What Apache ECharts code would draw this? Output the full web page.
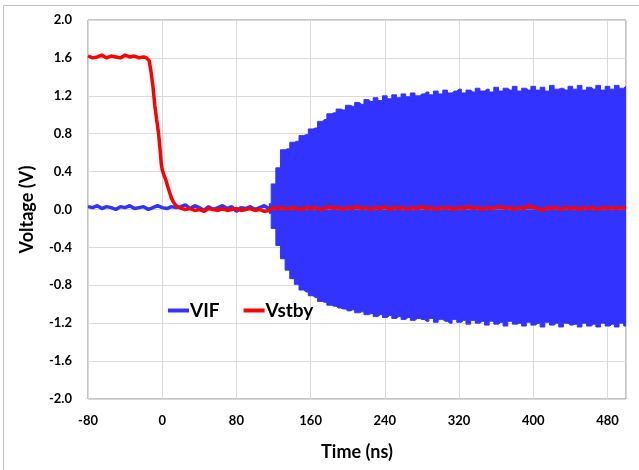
<!DOCTYPE html>
<html style="height: 100%">
<head>
    <meta charset="utf-8">
    <title>VIF / Vstby</title>
    <script src="https://cdn.jsdelivr.net/npm/echarts@6/dist/echarts.min.js"></script>
</head>
<body style="height: 100%; margin: 0; background: #fff">
<div id="main" style="width: 639px; height: 470px"></div>
<script type="text/javascript">

    // VIF before the oscillation starts (ns, V)
    var vifBaseT = [-80, -75, -70, -65, -60, -55, -50, -45, -40, -35, -30, -25, -20, -15, -10, -5, 0, 5, 10, 15,
        20, 25, 30, 35, 40, 45, 50, 55, 60, 65, 70, 75, 80, 85, 90, 95, 100, 105, 110, 115];
    var vifBaseV = [0.03, 0.02, 0.04, 0.01, 0.03, 0.02, 0.00, 0.03, 0.02, 0.04, 0.01, 0.02, 0.03, 0.00, 0.02, 0.04, 0.02, 0.01, 0.03, 0.02,
        0.03, 0.05, 0.01, 0.04, 0.02, -0.01, 0.03, 0.00, 0.02, 0.04, 0.01, 0.03, -0.02, 0.02, 0.01, 0.03, 0.00, 0.02, 0.04, 0.01];

    // VIF oscillation: upper and lower envelope (ns, V)
    var vifEnvT = [115, 120, 125, 130, 135, 140, 145, 150, 155, 160, 165, 170, 175, 180, 185, 190, 195, 200,
        205, 210, 215, 220, 225, 230, 235, 240, 245, 250, 255, 260, 265, 270, 275, 280, 285, 290, 295, 300,
        305, 310, 315, 320, 325, 330, 335, 340, 345, 350, 355, 360, 365, 370, 375, 380, 385, 390, 395, 400,
        405, 410, 415, 420, 425, 430, 435, 440, 445, 450, 455, 460, 465, 470, 475, 480, 485, 490, 495, 500];
    var vifUpper = [0.06, 0.27, 0.44, 0.63, 0.64, 0.71, 0.72, 0.78, 0.79, 0.85, 0.86, 0.93, 0.95, 1.01, 1.02, 1.06, 1.05, 1.10,
        1.09, 1.13, 1.11, 1.16, 1.14, 1.18, 1.15, 1.20, 1.17, 1.21, 1.18, 1.22, 1.19, 1.23, 1.20, 1.22, 1.24, 1.21, 1.25, 1.22,
        1.26, 1.23, 1.25, 1.27, 1.23, 1.26, 1.24, 1.28, 1.25, 1.27, 1.24, 1.29, 1.25, 1.28, 1.26, 1.30, 1.25, 1.28, 1.26, 1.30,
        1.26, 1.29, 1.25, 1.31, 1.27, 1.28, 1.26, 1.30, 1.27, 1.31, 1.26, 1.29, 1.27, 1.31, 1.26, 1.30, 1.27, 1.31, 1.28, 1.30];
    var vifLower = [-0.04, -0.20, -0.38, -0.52, -0.64, -0.73, -0.79, -0.85, -0.87, -0.91, -0.93, -0.97, -0.98, -1.01, -1.02, -1.04, -1.05, -1.07,
        -1.06, -1.09, -1.08, -1.11, -1.10, -1.13, -1.11, -1.14, -1.12, -1.15, -1.13, -1.16, -1.14, -1.17, -1.15, -1.16, -1.18, -1.15, -1.19, -1.16,
        -1.18, -1.20, -1.16, -1.19, -1.17, -1.21, -1.17, -1.20, -1.18, -1.22, -1.18, -1.21, -1.19, -1.23, -1.18, -1.21, -1.20, -1.23, -1.19, -1.22,
        -1.20, -1.24, -1.19, -1.22, -1.20, -1.24, -1.20, -1.22, -1.21, -1.24, -1.20, -1.23, -1.21, -1.24, -1.20, -1.23, -1.21, -1.24, -1.20, -1.23];

    // Vstby (ns, V)
    var vstbyT = [-80, -75, -70, -65, -60, -55, -50, -45, -40, -35, -30, -25, -20, -17, -14, -12, -10, -8, -6, -4, -2, -1,
        0, 2, 4, 6, 8, 10, 12, 15, 18, 20,
        25, 30, 35, 40, 45, 50, 55, 60, 65, 70, 75, 80, 85, 90, 95, 100, 105, 110, 115, 120,
        125, 130, 135, 140, 145, 150, 155, 160, 165, 170, 175, 180, 185, 190, 195, 200, 205, 210, 215, 220,
        225, 230, 235, 240, 245, 250, 255, 260, 265, 270, 275, 280, 285, 290, 295, 300, 305, 310, 315, 320,
        325, 330, 335, 340, 345, 350, 355, 360, 365, 370, 375, 380, 385, 390, 395, 400, 405, 410, 415, 420,
        425, 430, 435, 440, 445, 450, 455, 460, 465, 470, 475, 480, 485, 490, 495, 500];
    var vstbyV = [1.62, 1.60, 1.61, 1.63, 1.60, 1.62, 1.61, 1.60, 1.63, 1.61, 1.62, 1.60, 1.61, 1.60, 1.57, 1.45, 1.30, 1.10, 0.95, 0.81, 0.60, 0.48,
        0.42, 0.36, 0.31, 0.24, 0.18, 0.12, 0.08, 0.04, 0.02, 0.01,
        0.00, 0.01, -0.01, 0.00, -0.02, 0.01, 0.00, -0.01, 0.01, -0.01, 0.00, 0.01, -0.01, 0.00, 0.01, -0.01, 0.00, -0.02, -0.01, 0.02,
        0.01, 0.02, 0.00, 0.02, 0.01, 0.00, 0.02, 0.01, 0.02, 0.00, 0.01, 0.03, 0.01, 0.02, 0.00, 0.02, 0.01, 0.03, 0.01, 0.02,
        0.00, 0.02, 0.01, 0.03, 0.00, 0.02, 0.01, 0.02, 0.00, 0.02, 0.01, 0.03, 0.01, 0.02, 0.00, 0.02, 0.01, 0.02, 0.00, 0.02,
        0.01, 0.03, 0.01, 0.02, 0.00, 0.02, 0.01, 0.02, 0.03, 0.01, 0.02, 0.00, 0.02, 0.01, 0.04, 0.02, 0.01, -0.01, 0.02, 0.01,
        0.02, 0.00, 0.02, 0.01, 0.02, 0.00, 0.02, 0.01, 0.02, 0.00, 0.02, 0.01, 0.02, 0.01, 0.02, 0.01];

    var BLUE = '#3333ff';
    var RED = '#ff0000';
    var FONT = 'Lato';

    function pairs(t, v) {
        return t.map(function (x, i) { return [x, v[i]]; });
    }

    var myChart = echarts.init(document.getElementById('main'));

    var option = {
        animation: false,
        backgroundColor: '#fff',
        textStyle: { fontFamily: FONT },
        graphic: [{
            type: 'rect',
            shape: { x: 3.5, y: 5.5, width: 700, height: 500 },
            style: { fill: 'none', stroke: '#bfbfbf', lineWidth: 1 },
            silent: true
        }],
        grid: {
            left: 88, right: 13, top: 20, bottom: 71,
            show: true, borderColor: '#868686', borderWidth: 1
        },
        legend: {
            left: 163, top: 296,
            itemWidth: 21, itemHeight: 4, itemGap: 24,
            textStyle: { fontFamily: FONT, fontWeight: 'bold', fontSize: 19, color: '#000', padding: [0, 0, 0, -4] },
            data: [{ name: 'VIF', icon: 'rect' }, { name: 'Vstby', icon: 'rect' }]
        },
        xAxis: {
            type: 'value', min: -80, max: 500, interval: 80,
            name: 'Time (ns)', nameLocation: 'middle', nameGap: 44,
            nameTextStyle: { fontFamily: FONT, fontWeight: 'bold', fontSize: 18, color: '#000' },
            axisLine: { lineStyle: { color: '#d9d9d9' } },
            axisTick: { show: false },
            axisLabel: { showMaxLabel: false, margin: 15, fontFamily: FONT, fontWeight: 'bold', fontSize: 13, color: '#000' },
            splitLine: { lineStyle: { color: '#d9d9d9' } }
        },
        yAxis: {
            type: 'value', min: -2, max: 2, interval: 0.4,
            name: 'Voltage (V)', nameLocation: 'middle', nameGap: 52,
            nameTextStyle: { fontFamily: FONT, fontWeight: 'bold', fontSize: 18, color: '#000' },
            axisLine: { show: true, lineStyle: { color: '#d9d9d9' } },
            axisTick: { show: false },
            axisLabel: {
                margin: 16, fontFamily: FONT, fontWeight: 'bold', fontSize: 13, color: '#000',
                formatter: function (v) { return v.toFixed(1); }
            },
            splitLine: { lineStyle: { color: '#d9d9d9' } }
        },
        series: [
            {
                name: 'VIF', type: 'line', step: 'middle', showSymbol: false,
                data: pairs(vifEnvT, vifUpper),
                lineStyle: { color: BLUE, width: 1 }, itemStyle: { color: BLUE },
                areaStyle: { color: BLUE, opacity: 1 }
            },
            {
                name: 'VIF', type: 'line', step: 'middle', showSymbol: false,
                data: pairs(vifEnvT, vifLower),
                lineStyle: { color: BLUE, width: 1 }, itemStyle: { color: BLUE },
                areaStyle: { color: BLUE, opacity: 1 }
            },
            {
                name: 'VIF', type: 'line', showSymbol: false,
                data: pairs(vifBaseT, vifBaseV),
                lineStyle: { color: BLUE, width: 3.5 }, itemStyle: { color: BLUE }
            },
            {
                name: 'Vstby', type: 'line', showSymbol: false,
                data: pairs(vstbyT, vstbyV),
                lineStyle: { color: RED, width: 3.5 }, itemStyle: { color: RED }
            }
        ]
    };

    myChart.setOption(option);
</script>
</body>
</html>
